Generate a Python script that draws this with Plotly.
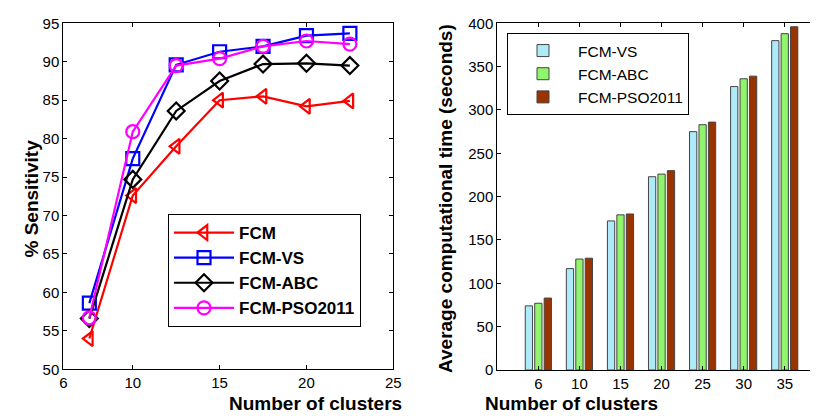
import plotly.graph_objects as go

# ---- data: sensitivity (left) ----
clusters_line = [7.5, 10, 12.5, 15, 17.5, 20, 22.5]
fcm = [54.0, 72.6, 79.0, 85.0, 85.5, 84.2, 84.9]
fcm_vs = [58.6, 77.4, 89.6, 91.3, 92.0, 93.4, 93.7]
fcm_abc = [56.6, 74.7, 83.6, 87.5, 89.7, 89.8, 89.5]
fcm_pso = [56.7, 80.9, 89.5, 90.4, 92.0, 92.7, 92.3]

# ---- data: computational time (right) ----
bar_pos = [1, 2, 3, 4, 5, 6, 7]
bar_labels = ["6", "10", "15", "20", "25", "30", "35"]
time_vs = [74, 117, 172, 223, 275, 327, 380]
time_abc = [77, 128, 179, 226, 283, 336, 388]
time_pso = [83, 129, 180, 230, 286, 339, 396]

FONT = "Liberation Sans, Arial, sans-serif"

# page body has an 8px margin; figure is sized/positioned to compensate
W, H, OFF = 810, 408, 8


def px(x):
    return (x - OFF) / W


def py(y):
    return 1 - (y - OFF) / H


fig = go.Figure()

line_series = [
    ("FCM", fcm, "#ff0000", "triangle-left-open"),
    ("FCM-VS", fcm_vs, "#0000ff", "square-open"),
    ("FCM-ABC", fcm_abc, "#000000", "diamond-open"),
    ("FCM-PSO2011", fcm_pso, "#ff00ff", "circle-open"),
]
for name, ys, col, sym in line_series:
    fig.add_trace(go.Scatter(
        x=clusters_line, y=ys, name=name, mode="lines+markers",
        line=dict(color=col, width=2.2),
        marker=dict(symbol=sym, size=13, color=col, line=dict(width=2.2, color=col)),
        xaxis="x", yaxis="y", legend="legend",
    ))

bar_series = [
    ("FCM-VS", time_vs, "#aeeaf8"),
    ("FCM-ABC", time_abc, "#90f46c"),
    ("FCM-PSO2011", time_pso, "#993300"),
]
for name, ys, col in bar_series:
    fig.add_trace(go.Bar(
        x=bar_pos, y=ys, name=name,
        marker=dict(color=col, line=dict(color="#444444", width=1)),
        xaxis="x2", yaxis="y2", legend="legend2",
    ))

axis_common = dict(
    showgrid=False, zeroline=False, showline=True, linecolor="black", linewidth=1,
    mirror="ticks", ticks="inside", ticklen=4, tickcolor="black", automargin=False,
    tickfont=dict(family=FONT, size=15, color="black"),
)

fig.update_layout(
    template="none",
    width=W, height=H,
    margin=dict(l=0, r=0, t=0, b=0, autoexpand=False),
    paper_bgcolor="white", plot_bgcolor="white",
    barmode="group", bargap=0.31, bargroupgap=0.23,
    xaxis=dict(domain=[px(63.3), px(393.3)], range=[6, 25], tickvals=[6, 10, 15, 20, 25],
               anchor="y", **axis_common),
    yaxis=dict(domain=[py(369.3), py(23.3)], range=[50, 95], dtick=5, anchor="x", **axis_common),
    xaxis2=dict(domain=[px(497.3), 1.0], range=[0, 7.81], tickvals=bar_pos, ticktext=bar_labels,
                anchor="y2", **axis_common),
    yaxis2=dict(domain=[py(370), py(23.3)], range=[0, 400], dtick=50, anchor="x2", **axis_common),
    legend=dict(
        x=px(168), y=py(214), xanchor="left", yanchor="top",
        bgcolor="white", bordercolor="black", borderwidth=1,
        font=dict(family=FONT, size=17, color="black", weight="bold"),
        itemwidth=60,
    ),
    legend2=dict(
        x=px(507), y=py(33), xanchor="left", yanchor="top",
        bgcolor="white", bordercolor="black", borderwidth=1,
        font=dict(family=FONT, size=15.5, color="black"),
        itemwidth=60,
    ),
    showlegend=True,
    annotations=[
        dict(text="<b>% Sensitivity</b>", x=px(18), y=py(199), xref="paper", yref="paper",
             textangle=-90, showarrow=False, font=dict(family=FONT, size=19, color="black")),
        dict(text="<b>Number of clusters</b>", x=px(227), y=py(391), xref="paper", yref="paper",
             yanchor="top", showarrow=False, font=dict(family=FONT, size=19, color="black")),
        dict(text="<b>Average computational time (seconds)</b>", x=px(445), y=py(199),
             xref="paper", yref="paper", textangle=-90, showarrow=False,
             font=dict(family=FONT, size=19, color="black")),
        dict(text="<b>Number of clusters</b>", x=px(660), y=py(391), xref="paper", yref="paper",
             yanchor="top", showarrow=False, font=dict(family=FONT, size=19, color="black")),
    ],
)

fig.write_html("out.html")
